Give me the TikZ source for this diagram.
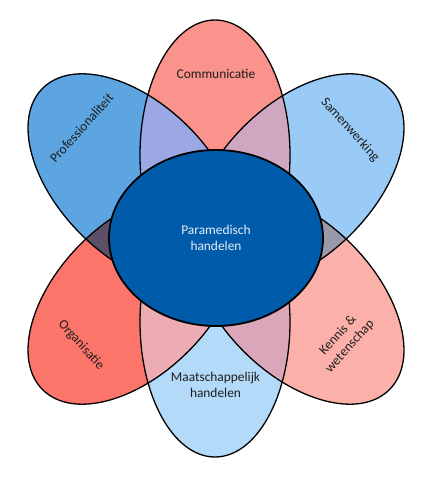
\documentclass[tikz,border=0pt]{standalone}
\usepackage{fontspec}
\setmainfont{Carlito}
\usepackage{tikz}
\usetikzlibrary{shapes.geometric}
\definecolor{commred}{HTML}{F9938B}
\definecolor{samenblue}{HTML}{9ACBF6}
\definecolor{kennispink}{HTML}{FBB1AA}
\definecolor{maatblue}{HTML}{B4DAF9}
\definecolor{orgred}{HTML}{FC756B}
\definecolor{profblue}{HTML}{5CA5E1}
\definecolor{coreblue}{HTML}{005BAA}
\definecolor{coretext}{HTML}{E8EEF6}
\definecolor{petalink}{HTML}{1E1E1E}
% overlap colours
\definecolor{mixNNW}{HTML}{9BA8E3}
\definecolor{mixNNE}{HTML}{CEA7C1}
\definecolor{mixEE}{HTML}{9A98AB}
\definecolor{mixWW}{HTML}{5B5067}
\definecolor{mixSSW}{HTML}{EDABB3}
\definecolor{mixSSE}{HTML}{DAA6BA}
% petal outlines
\newcommand{\petalN}{(215,325) ellipse [x radius=75, y radius=135]}
\newcommand{\petalS}{(215,158) ellipse [x radius=75, y radius=135]}
\newcommand{\petalNE}{[rotate around={45:(297.5,299.7)}] (297.5,299.7) ellipse [x radius=130, y radius=76]}
\newcommand{\petalSE}{[rotate around={-45:(297.5,182.3)}] (297.5,182.3) ellipse [x radius=130, y radius=76]}
\newcommand{\petalNW}{[rotate around={-45:(134.5,299.7)}] (134.5,299.7) ellipse [x radius=130, y radius=76]}
\newcommand{\petalSW}{[rotate around={45:(134.5,182.3)}] (134.5,182.3) ellipse [x radius=130, y radius=76]}

\begin{document}
\begin{tikzpicture}[x=1pt, y=1pt,
        petal/.style={draw=black, line width=1.3pt},
        petaltext/.style={font=\fontsize{13.4}{16}\selectfont, text=petalink, align=center, inner sep=0pt},
        corebox/.style={ellipse, draw=black, line width=1.8pt, fill=coreblue, minimum width=214pt, minimum height=176pt, inner sep=0pt, align=center, font=\fontsize{13.4}{16}\selectfont, text=coretext}
    ]
    \useasboundingbox (0,0) rectangle (434,480);

    % fills
    \fill[commred] \petalN;
    \fill[maatblue] \petalS;
    \fill[samenblue] \petalNE;
    \fill[kennispink] \petalSE;
    \fill[profblue] \petalNW;
    \fill[orgred] \petalSW;

    % overlaps
    \begin{scope} \clip \petalN; \fill[mixNNW] \petalNW; \end{scope}
    \begin{scope} \clip \petalN; \fill[mixNNE] \petalNE; \end{scope}
    \begin{scope} \clip \petalNE; \fill[mixEE] \petalSE; \end{scope}
    \begin{scope} \clip \petalNW; \fill[mixWW] \petalSW; \end{scope}
    \begin{scope} \clip \petalS; \fill[mixSSW] \petalSW; \end{scope}
    \begin{scope} \clip \petalS; \fill[mixSSE] \petalSE; \end{scope}

    % outlines
    \draw[petal] \petalN;
    \draw[petal] \petalS;
    \draw[petal] \petalNE;
    \draw[petal] \petalSE;
    \draw[petal] \petalNW;
    \draw[petal] \petalSW;

    \node (core) [corebox] at (216,242) {Paramedisch\\handelen};

    \node (comm) [petaltext] at (216,406) {Communicatie};
    \node (samen) [petaltext, rotate=-48] at (350,350) {Samenwerking};
    \node (kennis) [petaltext, rotate=48] at (344,139) {Kennis \&\\wetenschap};
    \node (maat) [petaltext] at (215.5,95) {Maatschappelijk\\handelen};
    \node (org) [petaltext, rotate=-48] at (81,135) {Organisatie};
    \node (prof) [petaltext, rotate=48] at (81.5,352) {Professionaliteit};
\end{tikzpicture}
\end{document}
